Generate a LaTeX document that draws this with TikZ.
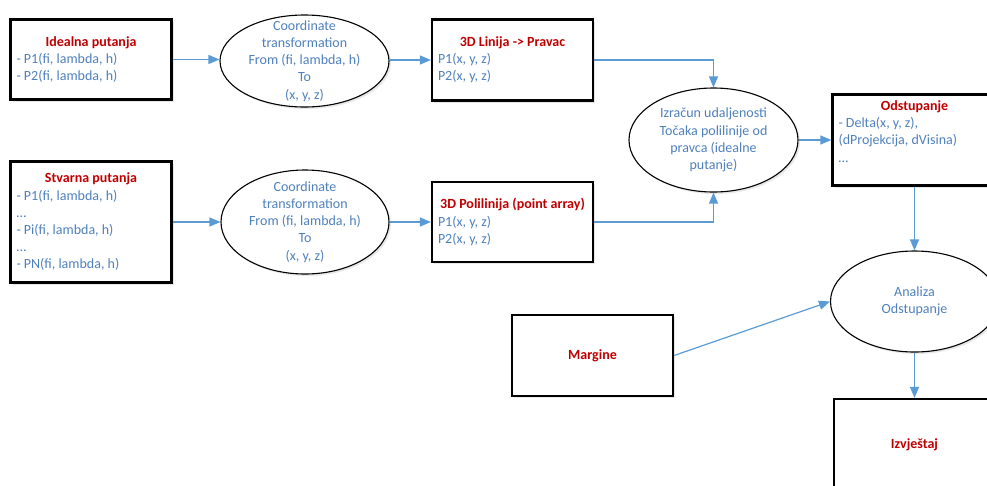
\documentclass[tikz,border=0pt]{standalone}
\usepackage{fontspec}
\setmainfont{Carlito}
\usetikzlibrary{arrows.meta,shadows,shapes.geometric}
\definecolor{tekst}{RGB}{79,129,189}
\definecolor{crvena}{RGB}{192,0,0}
\definecolor{veza}{RGB}{91,155,213}
\newcommand{\nsl}[1]{\makebox[\hsize]{\color{crvena}\bfseries #1}}
\begin{document}
\begin{tikzpicture}[x=1pt, y=-1pt,
        font=\fontsize{14}{17.2}\selectfont, text=tekst,
        sjena/.style={drop shadow={opacity=0.18, shadow xshift=2pt, shadow yshift=-2pt}},
        kutija/.style={draw, line width=2.2pt, rectangle, inner sep=0pt, inner xsep=6pt,
            minimum height=80pt, text width=149pt, align=flush left, fill=white, sjena},
        proces/.style={draw, ellipse, line width=1.1pt, inner sep=0pt, fill=white, sjena},
        natpis/.style={align=center, inner sep=0pt},
        strelica/.style={draw=veza, line width=1.2pt, -{Triangle[length=11pt, width=9pt]}}]
        \clip (0,0) rectangle (987,485);

        \node[kutija] (ideal) at (91,59.5) {\nsl{Idealna putanja}\\- P1(fi, lambda, h)\\- P2(fi, lambda, h)};
        \node[kutija, minimum height=121pt] (stvar) at (91,222) {\nsl{Stvarna putanja}\\- P1(fi, lambda, h)\\…\\- Pi(fi, lambda, h)\\…\\- PN(fi, lambda, h)};

        \node[proces, minimum width=169pt, minimum height=92pt,
            label={[natpis]center:Coordinate\\transformation\\From (fi, lambda, h)\\To\\(x, y, z)}] (trans1) at (304.5,61) {};
        \node[proces, minimum width=168pt, minimum height=104pt,
            label={[natpis]center:Coordinate\\transformation\\From (fi, lambda, h)\\To\\(x, y, z)}] (trans2) at (305,222) {};

        \node[kutija, minimum height=81pt] (linija) at (512.5,60) {\nsl{3D Linija -> Pravac}\\P1(x, y, z)\\P2(x, y, z)};
        \node[kutija] (polilinija) at (512.5,222) {\nsl{3D Polilinija (point array)}\\P1(x, y, z)\\P2(x, y, z)};

        \node[proces, minimum width=169pt, minimum height=104pt,
            label={[natpis]center:Izračun udaljenosti\\Točaka polilinije od\\pravca (idealne\\putanje)}] (izracun) at (713.5,140) {};

        \node[kutija, text width=152pt, minimum height=91pt] (odst) at (914.5,140) {\nsl{Odstupanje}\\- Delta(x, y, z),\\(dProjekcija, dVisina)\\…\\\mbox{}};

        \node[proces, minimum width=168pt, minimum height=101pt,
            label={[natpis]center:Analiza\\Odstupanje}] (analiza) at (914.5,301.5) {};

        \node[kutija, minimum height=81pt] (margine) at (592.5,355.5) {\nsl{Margine}};
        \node[kutija, minimum height=92pt] (izvj) at (914.5,445) {\nsl{Izvještaj}};

        \draw[strelica] (ideal.east) -- (trans1.west |- ideal.east);
        \draw[strelica] (trans1.east |- linija.west) -- (linija.west);
        \draw[strelica] (stvar.east) -- (trans2.west);
        \draw[strelica] (trans2.east) -- (polilinija.west);
        \draw[strelica] (linija.east) -| (izracun.north);
        \draw[strelica] (polilinija.east) -| (izracun.south);
        \draw[strelica] (izracun.east) -- (odst.west);
        \draw[strelica] (odst.south) -- (analiza.north);
        \draw[strelica] (margine.east) -- (analiza.west);
        \draw[strelica] (analiza.south) -- (izvj.north);
\end{tikzpicture}
\end{document}
